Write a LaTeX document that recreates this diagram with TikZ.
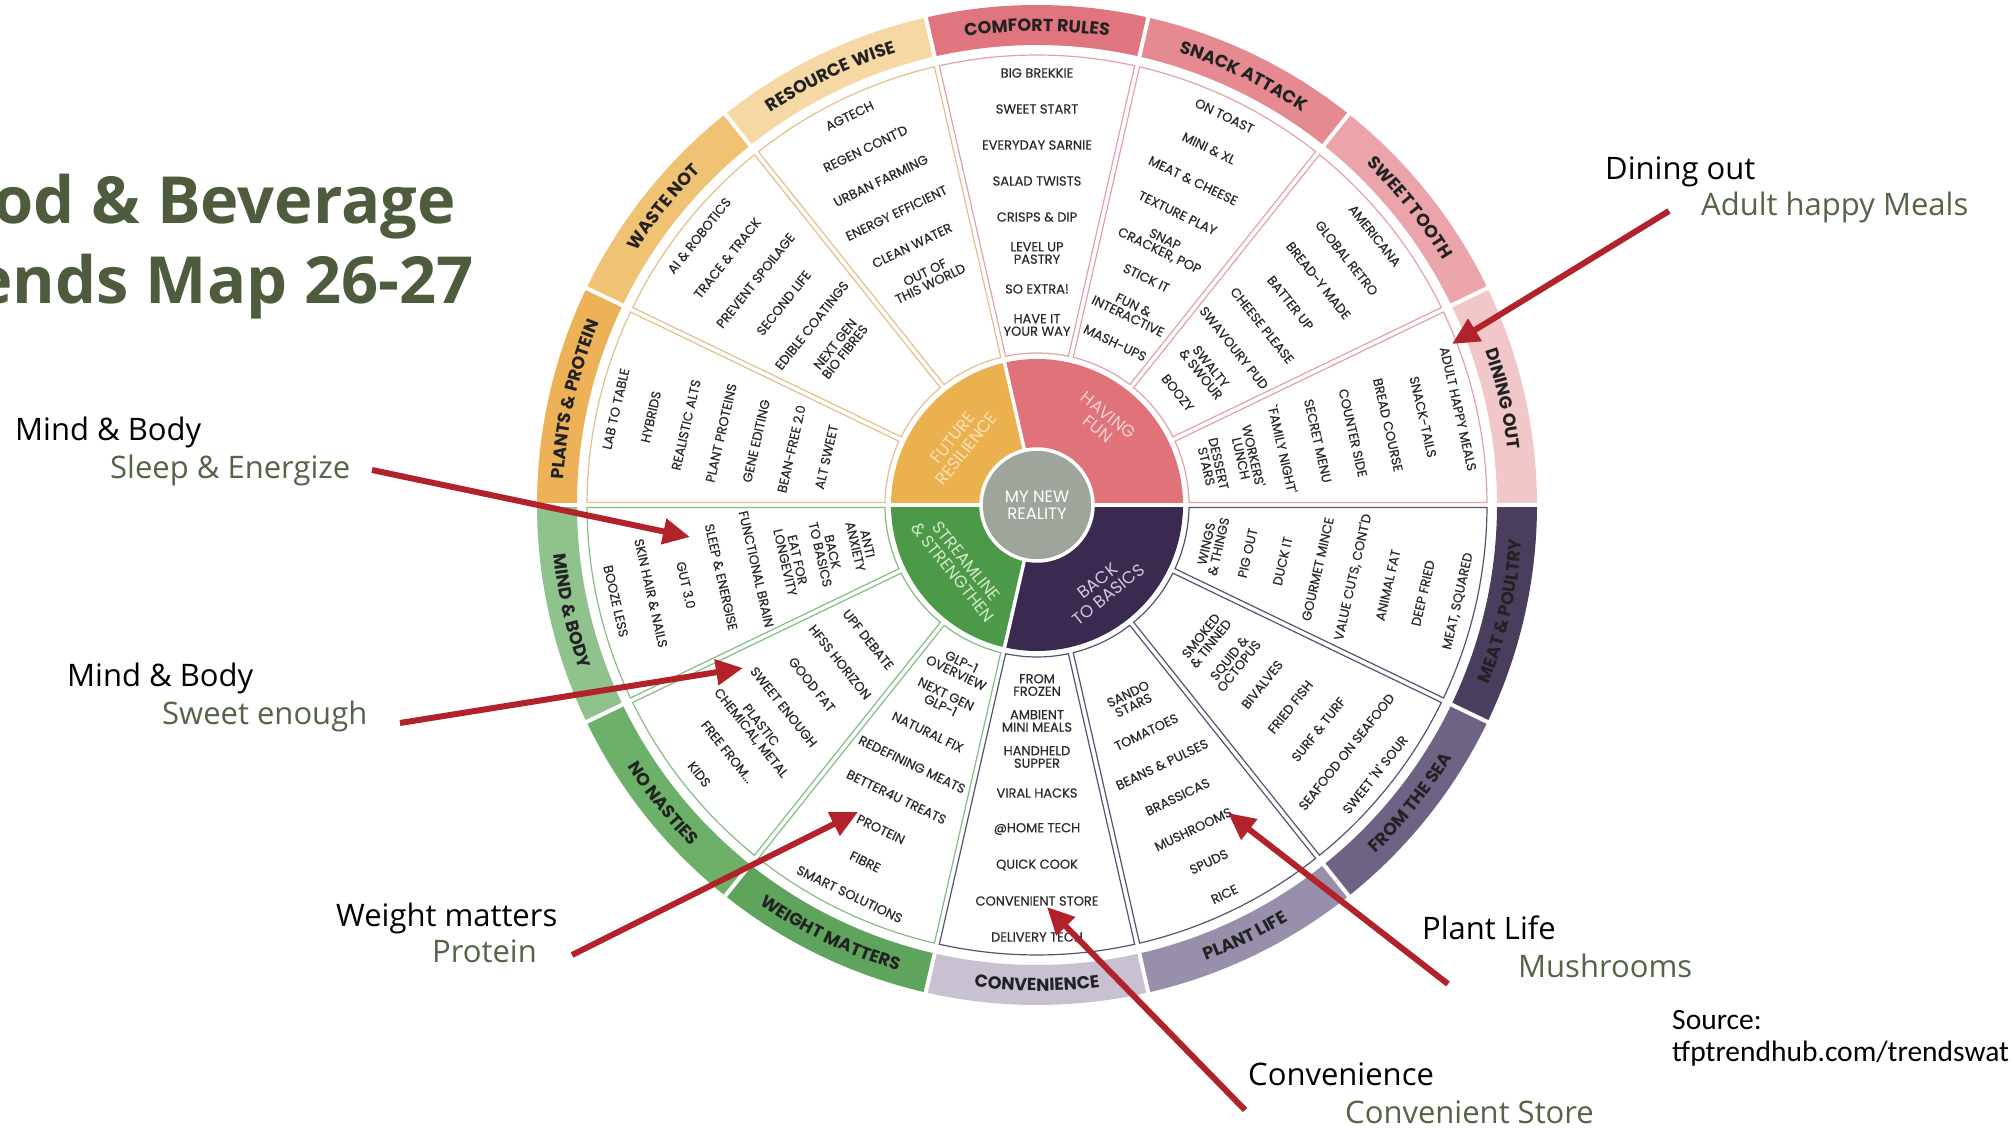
\documentclass[tikz,border=0pt]{standalone}
\usepackage{fontspec}
\setmainfont{Open Sans}
\newfontfamily\wheelfam{Poppins}
\newfontfamily\itemfam{Poppins}[FakeBold=0.35]
\newfontfamily\srcfam{Carlito}
\usetikzlibrary{arrows.meta,decorations.text}

\definecolor{qFut}{HTML}{ECB14F}
\definecolor{qFun}{HTML}{E0727A}
\definecolor{qBack}{HTML}{3A2A4F}
\definecolor{qStr}{HTML}{4C9A47}
\definecolor{core}{HTML}{9EA59B}
\definecolor{tFut}{HTML}{F8E3BA}
\definecolor{tFun}{HTML}{F8D0D3}
\definecolor{tBack}{HTML}{D2C9DE}
\definecolor{tStr}{HTML}{D0E8CA}
\definecolor{bDin}{HTML}{F2C7CA}
\definecolor{bSwe}{HTML}{EBA5AA}
\definecolor{bSna}{HTML}{E68A91}
\definecolor{bCom}{HTML}{E07580}
\definecolor{bRes}{HTML}{F5D8A3}
\definecolor{bWas}{HTML}{F0C273}
\definecolor{bPla}{HTML}{EDB257}
\definecolor{bMin}{HTML}{8FC28C}
\definecolor{bNoN}{HTML}{6CB06A}
\definecolor{bWei}{HTML}{5FA45C}
\definecolor{bCon}{HTML}{C7C1D1}
\definecolor{bPlL}{HTML}{9890AA}
\definecolor{bSea}{HTML}{6E6385}
\definecolor{bMea}{HTML}{4A3E5F}
\definecolor{oFut}{HTML}{E3C08A}
\definecolor{oFun}{HTML}{E3A2A7}
\definecolor{oBack}{HTML}{5B5070}
\definecolor{oStr}{HTML}{86BC84}
\definecolor{itemcol}{HTML}{2A2A2A}
\definecolor{bandtxt}{HTML}{222222}
\definecolor{annogreen}{HTML}{556446}
\definecolor{titlegreen}{HTML}{4E5C3E}
\definecolor{arrowred}{HTML}{B2222A}

\newcommand\bandfont{\wheelfam\bfseries\fontsize{17.5pt}{17.5pt}\selectfont\color{bandtxt}}

\newcommand\wbBand[2]{%
  \pgfmathsetmacro\ba{#1*25.7142857}%
  \pgfmathsetmacro\bb{(#1+1)*25.7142857}%
  \fill[#2] (\ba:500) arc[start angle=\ba,end angle=\bb,radius=500] -- (\bb:460) arc[start angle=\bb,end angle=\ba,radius=460] -- cycle;%
}
\newcommand\wbSect[2]{%
  \pgfmathsetmacro\sa{#1*25.7142857+0.94}%
  \pgfmathsetmacro\sb{#1*25.7142857+0.32}%
  \pgfmathsetmacro\sc{(#1+1)*25.7142857-0.32}%
  \pgfmathsetmacro\sd{(#1+1)*25.7142857-0.94}%
  \draw[#2, line width=1.2pt] (\sa:152) -- (\sb:450) arc[start angle=\sb,end angle=\sc,radius=450] -- (\sd:152) arc[start angle=\sd,end angle=\sa,radius=152] -- cycle;%
}
\newcommand\wbItem[3]{%
  \pgfmathsetmacro\itang{(#1+0.5)*25.7142857}%
  \pgfmathsetmacro\itrad{432-36*#2}%
  \pgfmathsetmacro\itrot{\itang<180 ? \itang-90 : \itang+90}%
  \node[itemtxt, rotate=\itrot] (item-#1-#2) at (\itang:\itrad) {#3};%
}
\newcommand\wbLabel[2]{%
  \pgfmathsetmacro\bc{(#1+0.5)*25.7142857}%
  \pgfmathtruncatemacro\istop{\bc<180 ? 1 : 0}%
  \ifnum\istop=1
    \pgfmathsetmacro\bs{\bc+12.8}\pgfmathsetmacro\be{\bc-12.8}%
    \path[decorate, decoration={text along path, text align=center, text={|\bandfont|#2}}] (\bs:474) arc[start angle=\bs, end angle=\be, radius=474];%
  \else
    \pgfmathsetmacro\bs{\bc-12.8}\pgfmathsetmacro\be{\bc+12.8}%
    \path[decorate, decoration={text along path, text align=center, text={|\bandfont|#2}}] (\bs:486) arc[start angle=\bs, end angle=\be, radius=486];%
  \fi
}

\tikzset{
  itemtxt/.style={font=\itemfam\fontsize{13pt}{12.5pt}\selectfont, text=itemcol, align=center, inner sep=0pt},
  qlabel/.style={font=\wheelfam\fontsize{17pt}{17.5pt}\selectfont, align=center, inner sep=0pt},
  anno/.style={font=\fontsize{31pt}{31pt}\selectfont, text=black, inner sep=0pt, anchor=base west},
  annosub/.style={anno, text=annogreen},
  titletxt/.style={font=\bfseries\fontsize{65pt}{65pt}\selectfont, text=titlegreen, inner sep=0pt, anchor=base east},
  srctxt/.style={font=\srcfam\fontsize{29.5pt}{29.5pt}\selectfont, text=black, inner sep=0pt, anchor=base west},
  redarrow/.style={draw=arrowred, line width=6pt, -{Triangle[length=27pt,width=25pt]}},
}

\begin{document}
\begin{tikzpicture}[x=1pt,y=1pt]
\useasboundingbox (0,0) rectangle (2010,1128);
\fill[white] (0,0) rectangle (2010,1128);

\begin{scope}[shift={(1037,623)}]
  % outer band
  \wbBand{0}{bDin}\wbBand{1}{bSwe}\wbBand{2}{bSna}\wbBand{3}{bCom}
  \wbBand{4}{bRes}\wbBand{5}{bWas}\wbBand{6}{bPla}
  \wbBand{7}{bMin}\wbBand{8}{bNoN}\wbBand{9}{bWei}
  \wbBand{10}{bCon}\wbBand{11}{bPlL}\wbBand{12}{bSea}\wbBand{13}{bMea}
  \foreach \k in {0,...,13} \draw[white, line width=4pt] ({\k*25.7142857}:455) -- ({\k*25.7142857}:505);
  % item sectors
  \wbSect{0}{oFun}\wbSect{1}{oFun}\wbSect{2}{oFun}\wbSect{3}{oFun}
  \wbSect{4}{oFut}\wbSect{5}{oFut}\wbSect{6}{oFut}
  \wbSect{7}{oStr}\wbSect{8}{oStr}\wbSect{9}{oStr}
  \wbSect{10}{oBack}\wbSect{11}{oBack}\wbSect{12}{oBack}\wbSect{13}{oBack}
  % quadrant ring
  \fill[qFun] (0,0) -- (0:146) arc[start angle=0,end angle=102.857,radius=146] -- cycle;
  \fill[qFut] (0,0) -- (102.857:146) arc[start angle=102.857,end angle=180,radius=146] -- cycle;
  \fill[qStr] (0,0) -- (180:146) arc[start angle=180,end angle=257.143,radius=146] -- cycle;
  \fill[qBack] (0,0) -- (257.143:146) arc[start angle=257.143,end angle=360,radius=146] -- cycle;
  \foreach \a in {0,102.857,180,257.143} \draw[white, line width=3.5pt] (0,0) -- (\a:148);
  \node[circle, fill=core, draw=white, line width=3.5pt, minimum size=112pt, inner sep=0pt,
        font=\wheelfam\fontsize{16.5pt}{17pt}\selectfont, text=white, align=center] (core) at (0,0) {MY NEW\\REALITY};
  \node[qlabel, text=tFun, rotate=-38.57] (qfun) at (51.43:106) {HAVING\\FUN};
  \node[qlabel, text=tFut, rotate=51.43] (qfut) at (141.43:99) {FUTURE\\RESILIENCE};
  \node[qlabel, text=tStr, rotate=-51.43] (qstr) at (218.57:99) {STREAMLINE\\\& STRENGTHEN};
  \node[qlabel, text=tBack, rotate=38.57] (qback) at (308.57:106) {BACK\\TO BASICS};

  % band labels
  \wbLabel{0}{DINING OUT}
  \wbLabel{1}{SWEET TOOTH}
  \wbLabel{2}{SNACK ATTACK}
  \wbLabel{3}{COMFORT RULES}
  \wbLabel{4}{RESOURCE WISE}
  \wbLabel{5}{WASTE NOT}
  \wbLabel{6}{PLANTS {\&} PROTEIN}
  \wbLabel{7}{MIND {\&} BODY}
  \wbLabel{8}{NO NASTIES}
  \wbLabel{9}{WEIGHT MATTERS}
  \wbLabel{10}{CONVENIENCE}
  \wbLabel{11}{PLANT LIFE}
  \wbLabel{12}{FROM THE SEA}
  \wbLabel{13}{MEAT {\&} POULTRY}

  % items
  \wbItem{0}{0}{ADULT HAPPY MEALS}
  \wbItem{0}{1}{SNACK-TAILS}
  \wbItem{0}{2}{BREAD COURSE}
  \wbItem{0}{3}{COUNTER SIDE}
  \wbItem{0}{4}{SECRET MENU}
  \wbItem{0}{5}{`FAMILY NIGHT'}
  \wbItem{0}{6}{WORKERS'\\LUNCH}
  \wbItem{0}{7}{DESSERT\\STARS}

  \wbItem{1}{0}{AMERICANA}
  \wbItem{1}{1}{GLOBAL RETRO}
  \wbItem{1}{2}{BREAD-Y MADE}
  \wbItem{1}{3}{BATTER UP}
  \wbItem{1}{4}{CHEESE PLEASE}
  \wbItem{1}{5}{SWAVOURY PUD}
  \wbItem{1}{6}{SWALTY\\\& SWOUR}
  \wbItem{1}{7}{BOOZY}

  \wbItem{2}{0}{ON TOAST}
  \wbItem{2}{1}{MINI \& XL}
  \wbItem{2}{2}{MEAT \& CHEESE}
  \wbItem{2}{3}{TEXTURE PLAY}
  \wbItem{2}{4}{SNAP\\CRACKER, POP}
  \wbItem{2}{5}{STICK IT}
  \wbItem{2}{6}{FUN \&\\INTERACTIVE}
  \wbItem{2}{7}{MASH-UPS}

  \wbItem{3}{0}{BIG BREKKIE}
  \wbItem{3}{1}{SWEET START}
  \wbItem{3}{2}{EVERYDAY SARNIE}
  \wbItem{3}{3}{SALAD TWISTS}
  \wbItem{3}{4}{CRISPS \& DIP}
  \wbItem{3}{5}{LEVEL UP\\PASTRY}
  \wbItem{3}{6}{SO EXTRA!}
  \wbItem{3}{7}{HAVE IT\\YOUR WAY}

  \wbItem{4}{0}{AGTECH}
  \wbItem{4}{1}{REGEN CONT'D}
  \wbItem{4}{2}{URBAN FARMING}
  \wbItem{4}{3}{ENERGY EFFICIENT}
  \wbItem{4}{4}{CLEAN WATER}
  \wbItem{4}{5}{OUT OF\\THIS WORLD}

  \wbItem{5}{0}{AI \& ROBOTICS}
  \wbItem{5}{1}{TRACE \& TRACK}
  \wbItem{5}{2}{PREVENT SPOILAGE}
  \wbItem{5}{3}{SECOND LIFE}
  \wbItem{5}{4}{EDIBLE COATINGS}
  \wbItem{5}{5}{NEXT GEN\\BIO FIBRES}

  \wbItem{6}{0}{LAB TO TABLE}
  \wbItem{6}{1}{HYBRIDS}
  \wbItem{6}{2}{REALISTIC ALTS}
  \wbItem{6}{3}{PLANT PROTEINS}
  \wbItem{6}{4}{GENE EDITING}
  \wbItem{6}{5}{BEAN-FREE 2.0}
  \wbItem{6}{6}{ALT SWEET}

  \wbItem{7}{0}{BOOZE LESS}
  \wbItem{7}{1}{SKIN HAIR \& NAILS}
  \wbItem{7}{2}{GUT 3.0}
  \wbItem{7}{3}{SLEEP \& ENERGISE}
  \wbItem{7}{4}{FUNCTIONAL BRAIN}
  \wbItem{7}{5}{EAT FOR\\LONGEVITY}
  \wbItem{7}{6}{BACK\\TO BASICS}
  \wbItem{7}{7}{ANTI\\ANXIETY}

  \wbItem{8}{0}{KIDS}
  \wbItem{8}{1}{FREE FROM...}
  \wbItem{8}{2}{PLASTIC\\CHEMICAL, METAL}
  \wbItem{8}{3}{SWEET ENOUGH}
  \wbItem{8}{4}{GOOD FAT}
  \wbItem{8}{5}{HFSS HORIZON}
  \wbItem{8}{6}{UPF DEBATE}

  \wbItem{9}{0}{SMART SOLUTIONS}
  \wbItem{9}{1}{FIBRE}
  \wbItem{9}{2}{PROTEIN}
  \wbItem{9}{3}{BETTER4U TREATS}
  \wbItem{9}{4}{REDEFINING MEATS}
  \wbItem{9}{5}{NATURAL FIX}
  \wbItem{9}{6}{NEXT GEN\\GLP-1}
  \wbItem{9}{7}{GLP-1\\OVERVIEW}

  \wbItem{10}{0}{DELIVERY TECH}
  \wbItem{10}{1}{CONVENIENT STORE}
  \wbItem{10}{2}{QUICK COOK}
  \wbItem{10}{3}{@HOME TECH}
  \wbItem{10}{4}{VIRAL HACKS}
  \wbItem{10}{5}{HANDHELD\\SUPPER}
  \wbItem{10}{6}{AMBIENT\\MINI MEALS}
  \wbItem{10}{7}{FROM\\FROZEN}

  \wbItem{11}{0}{RICE}
  \wbItem{11}{1}{SPUDS}
  \wbItem{11}{2}{MUSHROOMS}
  \wbItem{11}{3}{BRASSICAS}
  \wbItem{11}{4}{BEANS \& PULSES}
  \wbItem{11}{5}{TOMATOES}
  \wbItem{11}{6}{SANDO\\STARS}

  \wbItem{12}{0}{SWEET 'N' SOUR}
  \wbItem{12}{1}{SEAFOOD ON SEAFOOD}
  \wbItem{12}{2}{SURF \& TURF}
  \wbItem{12}{3}{FRIED FISH}
  \wbItem{12}{4}{BIVALVES}
  \wbItem{12}{5}{SQUID \&\\OCTOPUS}
  \wbItem{12}{6}{SMOKED\\\& TINNED}

  \wbItem{13}{0}{MEAT, SQUARED}
  \wbItem{13}{1}{DEEP FRIED}
  \wbItem{13}{2}{ANIMAL FAT}
  \wbItem{13}{3}{VALUE CUTS, CONT'D}
  \wbItem{13}{4}{GOURMET MINCE}
  \wbItem{13}{5}{DUCK IT}
  \wbItem{13}{6}{PIG OUT}
  \wbItem{13}{7}{WINGS\\\& THINGS}
\end{scope}

% title
\node[titletxt] (title1) at (456,904) {od \& Beverage};
\node[titletxt] (title2) at (474,824) {ends Map 26-27};

% annotations
\node[anno] (dinA) at (1605,948) {Dining out};
\node[annosub] (dinB) at (1701,912) {Adult happy Meals};
\node[anno] (mb1A) at (15,687) {Mind \& Body};
\node[annosub] (mb1B) at (110,649) {Sleep \& Energize};
\node[anno] (mb2A) at (67,441) {Mind \& Body};
\node[annosub] (mb2B) at (162,403) {Sweet enough};
\node[anno] (wmA) at (336,202) {Weight matters};
\node[annosub] (wmB) at (432,166) {Protein};
\node[anno] (plA) at (1422,189) {Plant Life};
\node[annosub] (plB) at (1518,151) {Mushrooms};
\node[anno] (cvA) at (1248,43) {Convenience};
\node[annosub] (cvB) at (1345,5) {Convenient Store};
\node[srctxt] (srcA) at (1672,99) {Source:};
\node[srctxt] (srcB) at (1672,67) {tfptrendhub.com/trendswat};

% arrows
\coordinate (dinS) at (1669,917);
\coordinate (dinT) at (1452,784);
\coordinate (mb1S) at (372,658);
\coordinate (mb1T) at (690,591);
\coordinate (mb2S) at (400,405);
\coordinate (mb2T) at (743,460);
\coordinate (wmS) at (572,173);
\coordinate (wmT) at (858,316);
\coordinate (plS) at (1448,144);
\coordinate (plT) at (1228,315);
\coordinate (cvS) at (1245,18);
\coordinate (cvT) at (1047,221);
\draw[redarrow] (dinS) -- (dinT);
\draw[redarrow] (mb1S) -- (mb1T);
\draw[redarrow] (mb2S) -- (mb2T);
\draw[redarrow] (wmS) -- (wmT);
\draw[redarrow] (plS) -- (plT);
\draw[redarrow] (cvS) -- (cvT);
\end{tikzpicture}
\end{document}
